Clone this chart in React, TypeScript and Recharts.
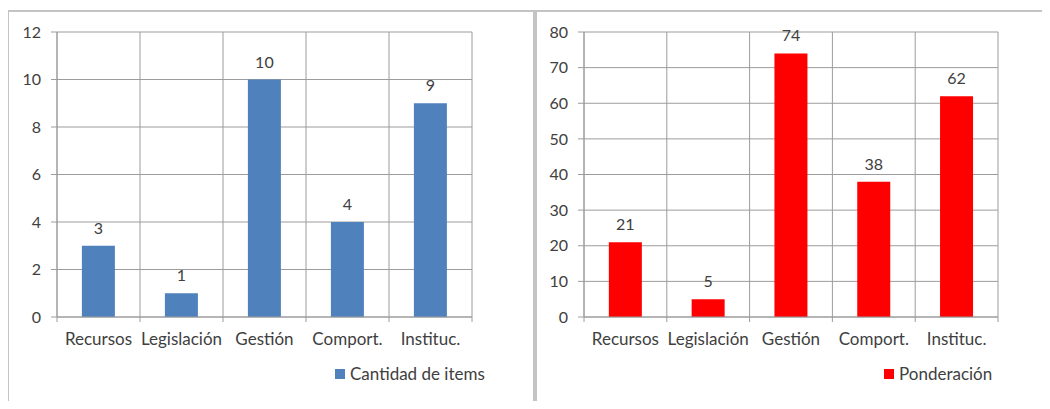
import React from "react";
import { BarChart, Bar, XAxis, YAxis, CartesianGrid, Legend, LabelList } from "recharts";

const categories = ["Recursos", "Legislación", "Gestión", "Comport.", "Instituc."];
const cantidadItems = [3, 1, 10, 4, 9];
const ponderacion = [21, 5, 74, 38, 62];
const leftTicks = [0, 2, 4, 6, 8, 10, 12];
const rightTicks = [0, 10, 20, 30, 40, 50, 60, 70, 80];

const leftData = categories.map((c, i) => ({ name: c, value: cantidadItems[i] }));
const rightData = categories.map((c, i) => ({ name: c, value: ponderacion[i] }));

const FONT = "Lato, 'Open Sans', sans-serif";
const TEXT = "#404040";
const GRID = "#9c9c9c";

const CatTick = (props: any) => {
  const { x, y, payload, index, visibleTicksCount, width } = props;
  const band = width / visibleTicksCount;
  return (
    <g>
      <line x1={x - band / 2} x2={x - band / 2} y1={y} y2={y + 5} stroke={GRID} />
      {index === visibleTicksCount - 1 && (
        <line x1={x + band / 2} x2={x + band / 2} y1={y} y2={y + 5} stroke={GRID} />
      )}
      <text x={x} y={y + 22} dy="0.35em" textAnchor="middle" fill={TEXT} fontSize={17} fontFamily={FONT}>
        {payload.value}
      </text>
    </g>
  );
};

const LegendContent = (props: any) => {
  const { payload } = props;
  return (
    <div style={{ display: "flex", alignItems: "center", fontFamily: FONT, fontSize: 17, color: TEXT, whiteSpace: "nowrap" }}>
      {(payload || []).map((p: any, i: number) => (
        <div key={i} style={{ display: "flex", alignItems: "center" }}>
          <span style={{ display: "inline-block", width: 10, height: 10, background: p.color, marginRight: 5 }} />
          <span>{p.value}</span>
        </div>
      ))}
    </div>
  );
};

const vGen = (n: number) => ({ offset }: any) => {
  const arr: number[] = [];
  for (let i = 0; i <= n; i++) arr.push(offset.left + (offset.width * i) / n);
  return arr;
};

type PanelProps = {
  data: { name: string; value: number }[];
  ticks: number[];
  max: number;
  color: string;
  name: string;
  width: number;
  yWidth: number;
  right: number;
  legendLeft: number;
};

const Panel = ({ data, ticks, max, color, name, width, yWidth, right, legendLeft }: PanelProps) => (
  <BarChart
    width={width}
    height={398}
    data={data}
    margin={{ top: 21, right, left: 0, bottom: 62 }}
    barCategoryGap="30%"
  >
    <CartesianGrid stroke={GRID} verticalCoordinatesGenerator={vGen(data.length)} />
    <XAxis
      dataKey="name"
      height={30}
      axisLine={{ stroke: GRID }}
      tickLine={false}
      tickSize={0}
      tickMargin={0}
      tick={<CatTick />}
      interval={0}
    />
    <YAxis
      width={yWidth}
      domain={[0, max]}
      ticks={ticks}
      interval={0}
      axisLine={{ stroke: GRID }}
      tickLine={{ stroke: GRID }}
      tickSize={6}
      tickMargin={10}
      tick={{ fill: TEXT, fontSize: 16, fontFamily: FONT }}
    />
    <Legend
      layout="horizontal"
      verticalAlign="middle"
      align="center"
      content={<LegendContent />}
      wrapperStyle={{ left: legendLeft, top: 352, width: "auto" }}
    />
    <Bar dataKey="value" name={name} fill={color} isAnimationActive={false}>
      <LabelList dataKey="value" position="top" offset={12} fill={TEXT} fontSize={16} fontFamily={FONT} />
    </Bar>
  </BarChart>
);

export default function App() {
  return (
    <div style={{ position: "relative", width: 1050, height: 409, margin: -8, overflow: "hidden", background: "#fff" }}>
      <div style={{ position: "absolute", left: 7, top: 10, width: 524, height: 420, border: "2px solid #c4c4c4" }} />
      <div style={{ position: "absolute", left: 535, top: 10, width: 530, height: 420, border: "2px solid #c4c4c4" }} />
      <div style={{ position: "absolute", left: 8, top: 11 }}>
        <Panel
          data={leftData}
          ticks={leftTicks}
          max={12}
          color="#4F81BD"
          name="Cantidad de items"
          width={526}
          yWidth={49}
          right={62}
          legendLeft={327}
        />
      </div>
      <div style={{ position: "absolute", left: 537, top: 11 }}>
        <Panel
          data={rightData}
          ticks={rightTicks}
          max={80}
          color="#FF0000"
          name="Ponderación"
          width={513}
          yWidth={47}
          right={52}
          legendLeft={347}
        />
      </div>
    </div>
  );
}
